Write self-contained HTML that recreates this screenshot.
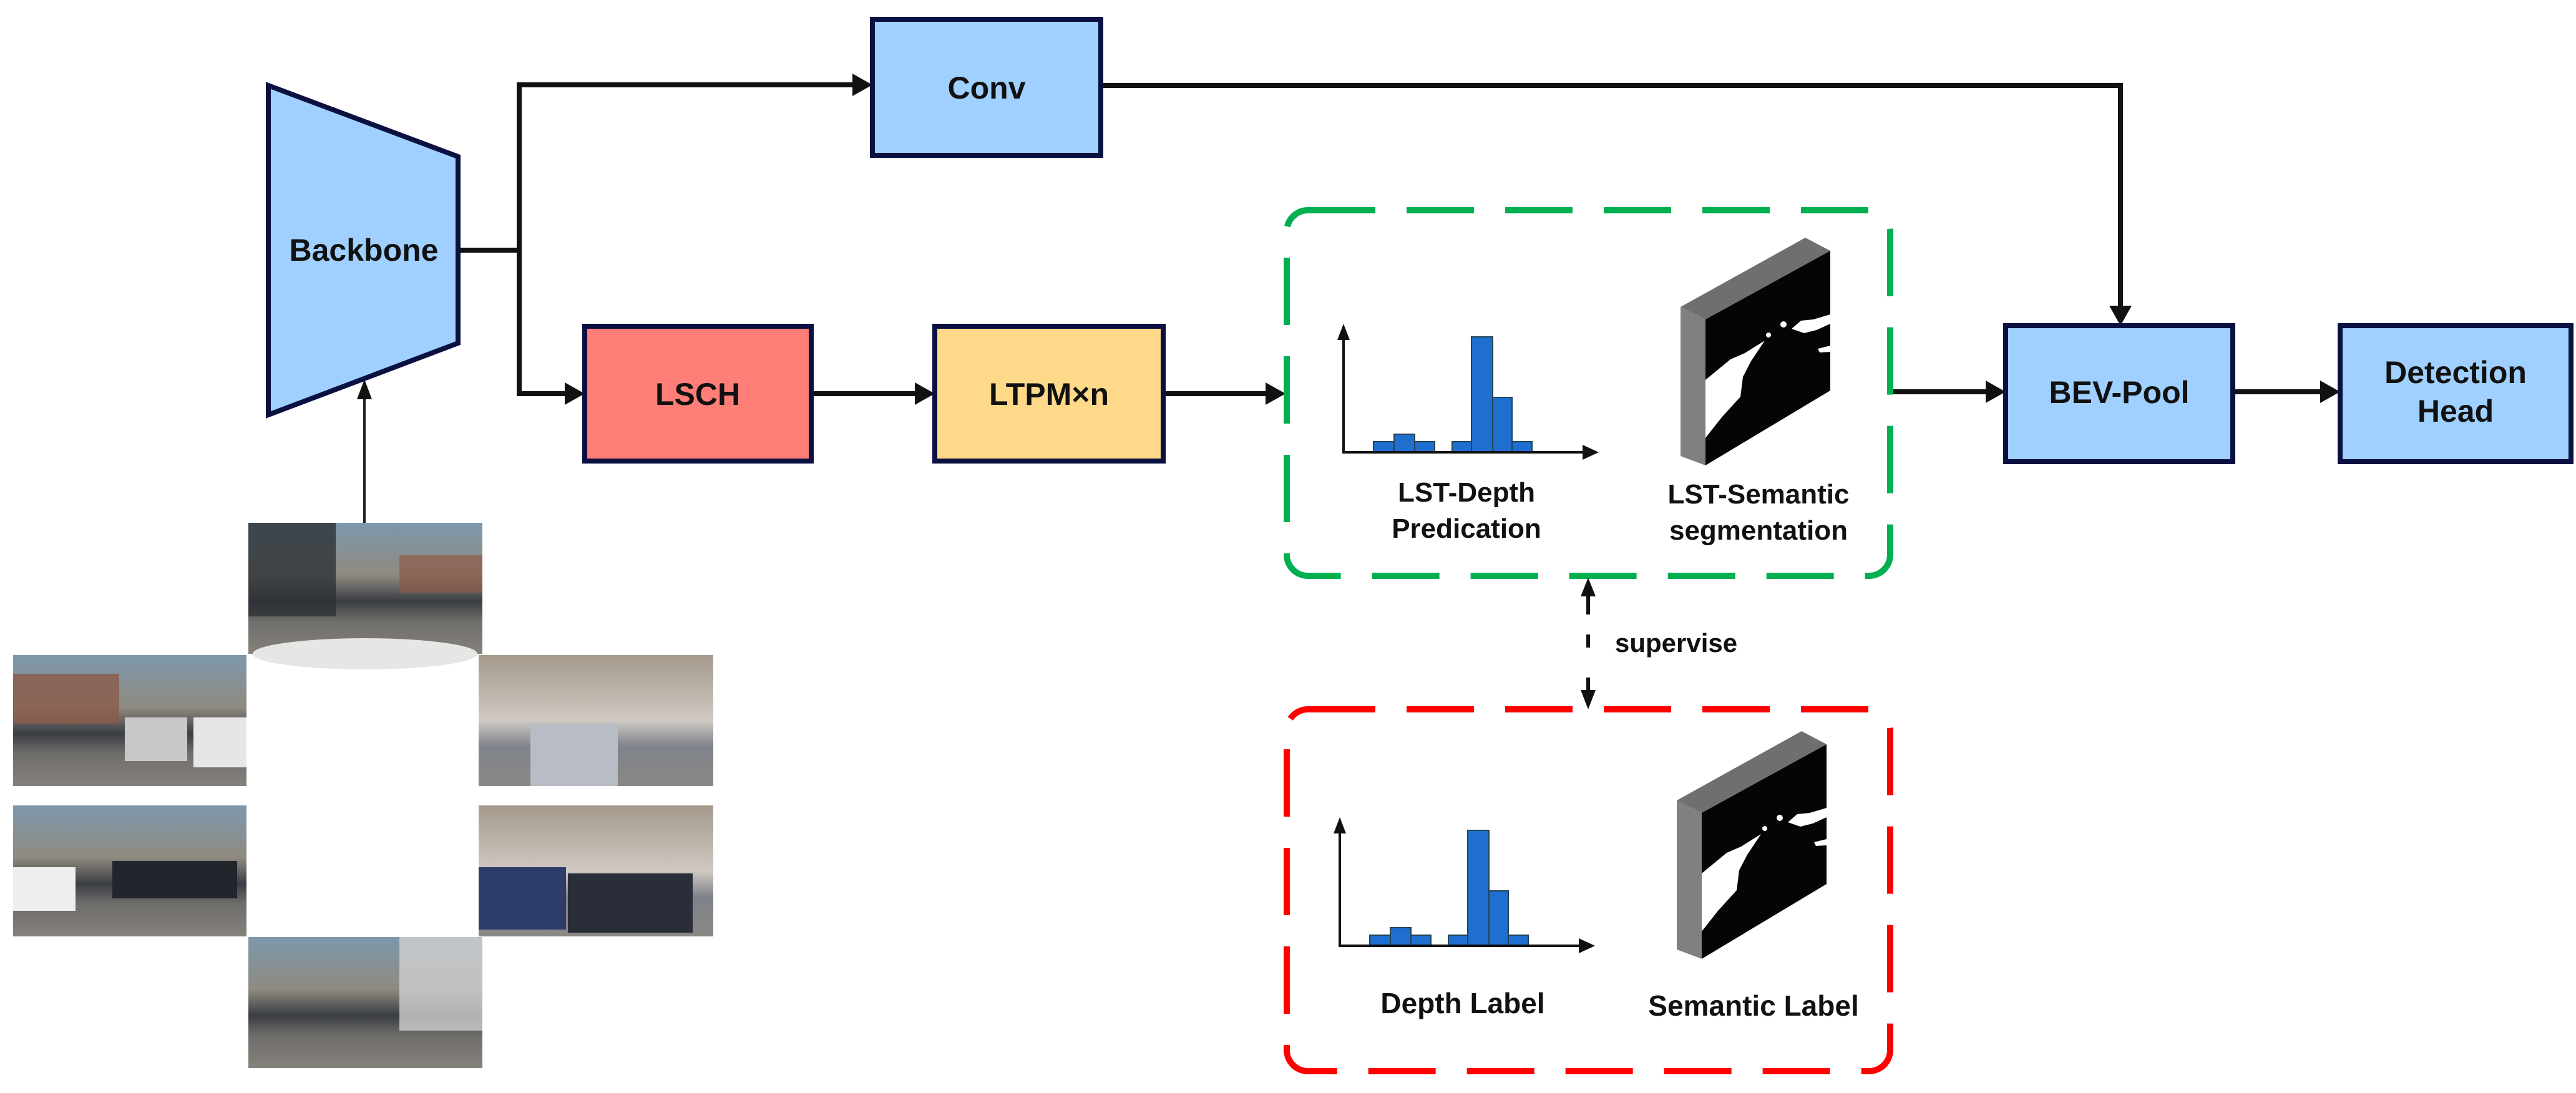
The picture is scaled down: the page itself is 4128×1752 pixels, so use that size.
<!DOCTYPE html>
<html><head><meta charset="utf-8"><style>
html,body{margin:0;padding:0;background:#fff;}
svg{display:block;}
text{font-family:"Liberation Sans",sans-serif;font-weight:bold;fill:#111;}
</style></head><body>
<svg width="4128" height="1752" viewBox="0 0 4128 1752" xmlns="http://www.w3.org/2000/svg">
<defs>
<marker id="ah" markerWidth="10" markerHeight="10" refX="9" refY="5" orient="auto" markerUnits="userSpaceOnUse" viewBox="0 0 10 10">
</marker>
<linearGradient id="sky" x1="0" y1="0" x2="0" y2="1">
<stop offset="0" stop-color="#7d98ad"/><stop offset="0.4" stop-color="#8f8a80"/><stop offset="0.6" stop-color="#3a3d44"/><stop offset="0.75" stop-color="#6f6d6a"/><stop offset="1" stop-color="#85827d"/>
</linearGradient>
<linearGradient id="bld" x1="0" y1="0" x2="0" y2="1">
<stop offset="0" stop-color="#a49a8c"/><stop offset="0.5" stop-color="#cfc9c2"/><stop offset="0.7" stop-color="#7e828a"/><stop offset="1" stop-color="#8a8884"/>
</linearGradient>
</defs>

<!-- camera images -->
<rect x="398" y="838" width="375" height="210" fill="url(#sky)"/>
<rect x="398" y="838" width="140" height="150" fill="#2d3236" opacity="0.8"/>
<rect x="640" y="890" width="133" height="60" fill="#8b5a48" opacity="0.7"/>
<ellipse cx="585" cy="1048" rx="180" ry="25" fill="#e6e6e4"/>
<rect x="21" y="1050" width="374" height="210" fill="url(#sky)"/>
<rect x="21" y="1080" width="170" height="80" fill="#8b5b4a" opacity="0.8"/>
<rect x="200" y="1150" width="100" height="70" fill="#c8c8c8"/>
<rect x="310" y="1150" width="85" height="80" fill="#e6e6e6"/>
<rect x="767" y="1050" width="376" height="210" fill="url(#bld)"/>
<rect x="850" y="1160" width="140" height="100" fill="#b8bcc4"/>
<rect x="21" y="1291" width="374" height="210" fill="url(#sky)"/>
<rect x="21" y="1390" width="100" height="70" fill="#eeeeee"/>
<rect x="180" y="1380" width="200" height="60" fill="#22262c"/>
<rect x="767" y="1291" width="376" height="210" fill="url(#bld)"/>
<rect x="767" y="1390" width="140" height="100" fill="#2e3c6a"/>
<rect x="910" y="1400" width="200" height="95" fill="#2a2e38"/>
<rect x="398" y="1502" width="375" height="210" fill="url(#sky)"/>
<rect x="640" y="1502" width="133" height="150" fill="#cfcfcf" opacity="0.8"/>

<!-- input arrow -->
<line x1="584" y1="838" x2="584" y2="635" stroke="#222" stroke-width="4"/>
<polygon points="584,608 572,640 596,640" fill="#111"/>

<!-- Backbone -->
<polygon points="430,137 734,251 734,550 430,665" fill="#9fd0ff" stroke="#0a1040" stroke-width="8" stroke-linejoin="miter"/>
<text x="583" y="418" font-size="50" text-anchor="middle">Backbone</text>

<!-- connectors -->
<g stroke="#111" stroke-width="8" fill="none">
<polyline points="738,401 832,401"/>
<polyline points="1370,136 832,136 832,631 910,631"/>
<line x1="1300" y1="631" x2="1470" y2="631"/>
<line x1="1864" y1="631" x2="2032" y2="631"/>
<polyline points="1764,137 3398,137 3398,495"/>
<line x1="3029" y1="628" x2="3186" y2="628"/>
<line x1="3578" y1="628" x2="3722" y2="628"/>
</g>
<g fill="#111">
<polygon points="1398,136 1366,118 1366,154"/>
<polygon points="937,631 905,613 905,649"/>
<polygon points="1498,631 1466,613 1466,649"/>
<polygon points="2060,631 2028,613 2028,649"/>
<polygon points="3398,522 3380,490 3416,490"/>
<polygon points="3214,628 3182,610 3182,646"/>
<polygon points="3750,628 3718,610 3718,646"/>
</g>

<!-- boxes -->
<g stroke="#0a1040" stroke-width="8">
<rect x="1398" y="31" width="366" height="218" fill="#9fd0ff"/>
<rect x="937" y="523" width="363" height="216" fill="#ff7f78"/>
<rect x="1498" y="523" width="366" height="216" fill="#ffd98a"/>
<rect x="3214" y="522" width="364" height="218" fill="#9fd0ff"/>
<rect x="3750" y="522" width="370" height="218" fill="#9fd0ff"/>
</g>
<text x="1581" y="158" font-size="50" text-anchor="middle">Conv</text>
<text x="1118" y="649" font-size="50" text-anchor="middle">LSCH</text>
<text x="1681" y="649" font-size="50" text-anchor="middle">LTPM×n</text>
<text x="3396" y="646" font-size="50" text-anchor="middle">BEV-Pool</text>
<text x="3935" y="614" font-size="50" text-anchor="middle">Detection</text>
<text x="3935" y="676" font-size="50" text-anchor="middle">Head</text>

<!-- dashed boxes -->
<rect x="2062" y="337" width="967" height="586" rx="34" fill="none" stroke="#00b050" stroke-width="10" stroke-dasharray="108 50"/>
<rect x="2062" y="1137" width="967" height="580" rx="34" fill="none" stroke="#ff0000" stroke-width="10" stroke-dasharray="108 50"/>

<!-- supervise -->
<polygon points="2545,926 2533,956 2557,956" fill="#111"/>
<line x1="2545" y1="950" x2="2545" y2="985" stroke="#111" stroke-width="6"/>
<line x1="2545" y1="1017" x2="2545" y2="1038" stroke="#111" stroke-width="6"/>
<line x1="2545" y1="1086" x2="2545" y2="1112" stroke="#111" stroke-width="6"/>
<polygon points="2545,1137 2533,1106 2557,1106" fill="#111"/>
<text x="2588" y="1045" font-size="42">supervise</text>

<!-- histogram + cube group (red) -->
<g id="vis">
<g fill="#1f6fd0" stroke="#245" stroke-width="2">
<rect x="2195" y="1499" width="33" height="17"/>
<rect x="2228" y="1487" width="33" height="29"/>
<rect x="2261" y="1499" width="32" height="17"/>
<rect x="2321" y="1499" width="31" height="17"/>
<rect x="2352" y="1331" width="34" height="185"/>
<rect x="2386" y="1428" width="31" height="88"/>
<rect x="2417" y="1499" width="32" height="17"/>
</g>
<polyline points="2147,1330 2147,1516 2530,1516" fill="none" stroke="#111" stroke-width="4"/>
<polygon points="2147,1310 2137,1336 2157,1336" fill="#111"/>
<polygon points="2556,1516 2530,1504 2530,1528" fill="#111"/>
<polygon points="2687,1283 2887,1172 2927,1193 2727,1303" fill="#6f6f6f"/>
<polygon points="2687,1283 2727,1303 2727,1537 2687,1522" fill="#808080"/>
<polygon points="2727,1303 2927,1193 2927,1417 2727,1537" fill="#050505"/>
<polygon points="2727,1400 2767,1367 2790,1357 2822,1337 2800,1370 2787,1395 2783,1427 2753,1460 2727,1493" fill="#fff"/>
<circle cx="2828" cy="1328" r="4" fill="#fff"/>
<circle cx="2852" cy="1311" r="5" fill="#fff"/>
<polygon points="2865,1318 2880,1305 2900,1303 2927,1295 2927,1310 2905,1320 2885,1325" fill="#fff"/>
<polygon points="2907,1350 2927,1345 2927,1355 2910,1356" fill="#fff"/>
</g>
<use href="#vis" transform="translate(6,-791)"/>

<text x="2344" y="1624" font-size="46" text-anchor="middle">Depth Label</text>
<text x="2810" y="1628" font-size="46" text-anchor="middle">Semantic Label</text>
<text x="2350" y="804" font-size="44" text-anchor="middle">LST-Depth</text>
<text x="2350" y="862" font-size="44" text-anchor="middle">Predication</text>
<text x="2818" y="807" font-size="44" text-anchor="middle">LST-Semantic</text>
<text x="2818" y="865" font-size="44" text-anchor="middle">segmentation</text>
</svg>
</body></html>
